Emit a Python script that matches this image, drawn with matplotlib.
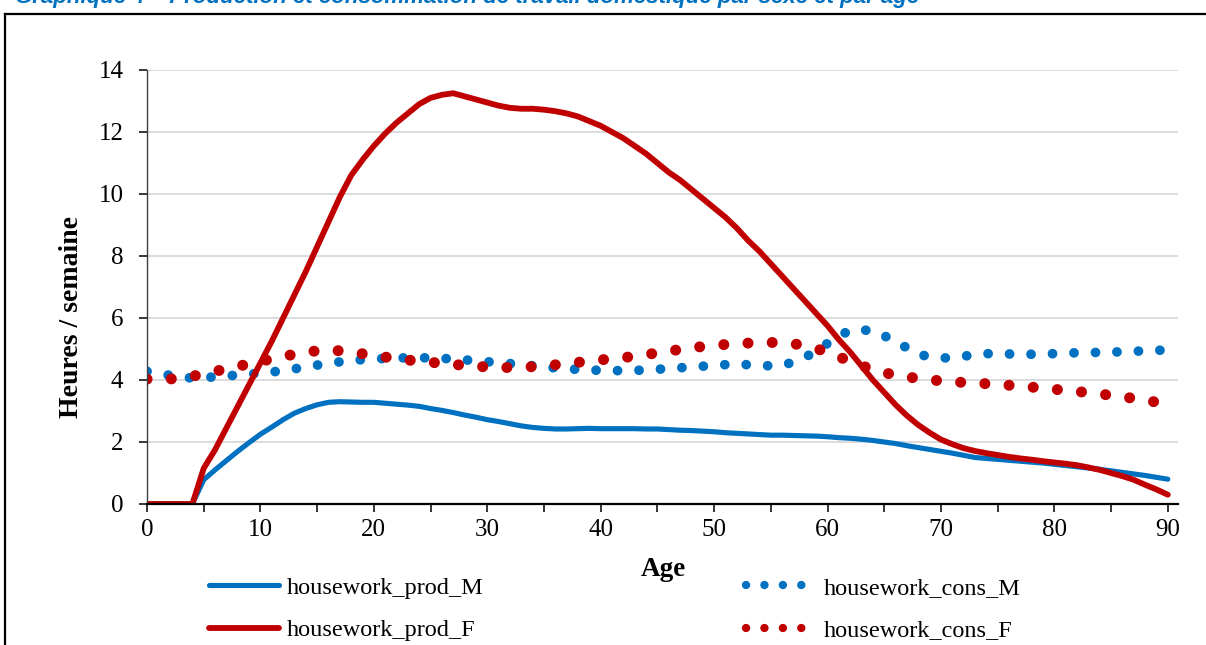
import numpy as np
import matplotlib
matplotlib.use("Agg")
import matplotlib.pyplot as plt
from matplotlib.ticker import MultipleLocator
from matplotlib.lines import Line2D

plt.rcParams['font.family'] = ['Liberation Serif', 'DejaVu Serif']

# ages 0..90 for the production curves
ages = list(range(91))

prod_M = [0, 0, 0, 0, 0, 0.78, 1.1, 1.4, 1.7, 1.98,
          2.25, 2.48, 2.72, 2.93, 3.08, 3.2, 3.28, 3.3, 3.29, 3.28,
          3.28, 3.25, 3.22, 3.19, 3.15, 3.08, 3.02, 2.95, 2.87, 2.8,
          2.72, 2.66, 2.59, 2.52, 2.47, 2.44, 2.42, 2.42, 2.43, 2.44,
          2.43, 2.43, 2.43, 2.43, 2.42, 2.42, 2.4, 2.38, 2.37, 2.35,
          2.33, 2.3, 2.28, 2.26, 2.24, 2.22, 2.22, 2.21, 2.2, 2.19,
          2.17, 2.14, 2.12, 2.09, 2.05, 2.0, 1.95, 1.88, 1.82, 1.76,
          1.7, 1.64, 1.57, 1.5, 1.47, 1.44, 1.41, 1.38, 1.35, 1.32,
          1.28, 1.24, 1.2, 1.16, 1.12, 1.07, 1.02, 0.97, 0.92, 0.86,
          0.8]

prod_F = [0, 0, 0, 0, 0, 1.15, 1.75, 2.45, 3.15, 3.85,
          4.55, 5.25, 6.0, 6.75, 7.5, 8.3, 9.1, 9.9, 10.6, 11.1,
          11.55, 11.95, 12.3, 12.6, 12.9, 13.1, 13.2, 13.25, 13.15, 13.05,
          12.95, 12.85, 12.78, 12.75, 12.75, 12.72, 12.67, 12.6, 12.5, 12.35,
          12.2, 12.0, 11.8, 11.55, 11.3, 11.0, 10.7, 10.45, 10.15, 9.85,
          9.55, 9.25, 8.9, 8.5, 8.15, 7.75, 7.35, 6.95, 6.55, 6.15,
          5.75, 5.3, 4.9, 4.45, 4.0, 3.6, 3.2, 2.85, 2.55, 2.3,
          2.08, 1.93, 1.8, 1.71, 1.64, 1.58, 1.52, 1.47, 1.43, 1.38,
          1.34, 1.3, 1.25, 1.18, 1.1, 1.0, 0.9, 0.78, 0.62, 0.47,
          0.3]

# consumption curves, every two years
cons_ages = list(range(0, 91, 2))

cons_M = [4.28, 4.15, 4.06, 4.1, 4.16, 4.22, 4.3, 4.42, 4.54, 4.63,
          4.68, 4.71, 4.72, 4.7, 4.65, 4.59, 4.53, 4.46, 4.39, 4.34,
          4.31, 4.3, 4.32, 4.37, 4.42, 4.47, 4.52, 4.46, 4.46, 4.72,
          5.18, 5.62, 5.6, 5.25, 4.82, 4.7, 4.77, 4.85, 4.84, 4.83,
          4.85, 4.88, 4.89, 4.91, 4.94, 4.97]

cons_F = [4.03, 4.03, 4.12, 4.28, 4.44, 4.6, 4.76, 4.9, 4.98, 4.9,
          4.79, 4.69, 4.6, 4.54, 4.47, 4.42, 4.4, 4.43, 4.49, 4.57,
          4.65, 4.72, 4.82, 4.93, 5.04, 5.12, 5.17, 5.21, 5.21, 5.12,
          4.9, 4.6, 4.33, 4.15, 4.05, 3.97, 3.92, 3.88, 3.83, 3.77,
          3.7, 3.63, 3.55, 3.46, 3.35, 3.22]

blue = '#0070C0'
red = '#C00000'
dots = (0, (0.01, 2.2))

fig = plt.figure(figsize=(12.06, 6.45), dpi=100)
ax = fig.add_axes([147/1206, 1 - 504/645, 1031/1206, 434/645])

l1, = ax.plot(ages, prod_M, color=blue, lw=3.7, solid_capstyle='round')
ax.plot(cons_ages, cons_M, color=blue, lw=7.0, linestyle=dots, dash_capstyle='round')
l3, = ax.plot(ages, prod_F, color=red, lw=4.2, solid_capstyle='round')
ax.plot(cons_ages, cons_F, color=red, lw=7.9, linestyle=dots, dash_capstyle='round')

# legend keys for the dotted series (slightly smaller dots, as in the original)
l2 = Line2D([], [], color=blue, lw=6.0, linestyle=dots, dash_capstyle='round')
l4 = Line2D([], [], color=red, lw=6.0, linestyle=dots, dash_capstyle='round')

ax.set_xlim(0, 90.9)
ax.set_ylim(0, 14)
ax.xaxis.set_major_locator(MultipleLocator(10))
ax.xaxis.set_minor_locator(MultipleLocator(5))
ax.yaxis.set_major_locator(MultipleLocator(2))
ax.grid(axis='y', color='#D9D9D9', lw=1.3)
ax.set_axisbelow(True)
for s in ['top', 'right']:
    ax.spines[s].set_visible(False)
ax.spines['left'].set_color('#404040')
ax.spines['left'].set_linewidth(1.0)
ax.spines['bottom'].set_color('black')
ax.spines['bottom'].set_linewidth(1.6)
ax.tick_params(axis='both', which='both', direction='out', length=6, width=1.1,
               labelsize=18)
ax.tick_params(axis='y', pad=11)
ax.tick_params(axis='x', pad=5)
ax.tick_params(axis='x', which='minor', length=6)

fig.text(72/1206, 1 - 317/645, 'Heures / semaine', rotation=90, ha='center',
         va='center', fontsize=20, fontweight='bold')
fig.text(663/1206, 1 - 570/645, 'Age', ha='center', va='center',
         fontsize=19.5, fontweight='bold')

fig.legend([l1, l3, l2, l4],
           ['housework_prod_M', 'housework_prod_F', 'housework_cons_M', 'housework_cons_F'],
           ncol=2, loc='center left', bbox_to_anchor=(209/1206, 1 - 609/645),
           frameon=False, fontsize=17.5, handlelength=2.9, handletextpad=0.3,
           columnspacing=10.8, labelspacing=0.85, borderpad=0, borderaxespad=0)

# cut-off caption above the frame
fig.text(15/1206, 1 - 3.5/645,
         'Graphique 4 – Production et consommation de travail domestique par sexe et par âge',
         color=blue, fontsize=16, fontweight='bold', fontstyle='italic',
         family=['Liberation Sans', 'DejaVu Sans'], va='baseline', ha='left')

# frame around the chart
fig.add_artist(Line2D([5/1206, 5/1206], [-0.05, 1 - 13.5/645], color='black',
                      lw=1.6, transform=fig.transFigure))
fig.add_artist(Line2D([5/1206, 1.05], [1 - 13.5/645, 1 - 13.5/645], color='black',
                      lw=1.6, transform=fig.transFigure))

fig.savefig('out.png', dpi=100)
